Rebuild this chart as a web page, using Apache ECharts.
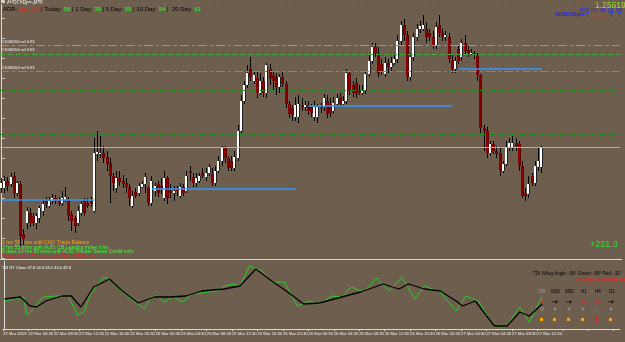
<!DOCTYPE html>
<html><head><meta charset="utf-8">
<script src="https://cdn.jsdelivr.net/npm/echarts@6/dist/echarts.min.js"></script>
<style>html,body{margin:0;padding:0;background:#6e5e4e;}#c{width:625px;height:342px;}</style>
</head><body><div id="c"></div>
<script>
// ---- DATA ----
const OPEN = [0.9512,0.9512,0.9520,0.9517,0.9525,0.9508,0.9517,0.9467,0.9478,0.9488,
0.9485,0.9478,0.9483,0.9490,0.9500,0.9495,0.9500,0.9503,0.9500,0.9498,
0.9501,0.9501,0.9487,0.9482,0.9478,0.9488,0.9500,0.9498,0.9500,0.9490,
0.9547,0.9547,0.9548,0.9543,0.9538,0.9525,0.9512,0.9522,0.9520,0.9518,
0.9514,0.9495,0.9509,0.9508,0.9514,0.9517,0.9512,0.9498,0.9510,0.9517,
0.9515,0.9503,0.9522,0.9510,0.9508,0.9512,0.9505,0.9513,0.9510,0.9530,
0.9524,0.9518,0.9520,0.9528,0.9523,0.9528,0.9527,0.9518,0.9530,0.9540,
0.9552,0.9542,0.9540,0.9532,0.9542,0.9570,0.9600,0.9615,0.9632,0.9620,
0.9622,0.9608,0.9620,0.9608,0.9632,0.9625,0.9623,0.9613,0.9623,0.9617,
0.9597,0.9592,0.9583,0.9583,0.9595,0.9593,0.9595,0.9593,0.9583,0.9583,
0.9595,0.9593,0.9600,0.9597,0.9590,0.9597,0.9603,0.9597,0.9600,0.9628,
0.9615,0.9618,0.9610,0.9608,0.9610,0.9627,0.9640,0.9653,0.9647,0.9637,
0.9627,0.9638,0.9633,0.9638,0.9642,0.9660,0.9675,0.9665,0.9623,0.9643,
0.9663,0.9672,0.9672,0.9672,0.9668,0.9663,0.9655,0.9675,0.9668,0.9663,
0.9663,0.9641,0.9632,0.9652,0.9643,0.9658,0.9651,0.9647,0.9648,0.9644,
0.9625,0.9572,0.9570,0.9548,0.9557,0.9550,0.9548,0.9530,0.9537,0.9553,
0.9552,0.9558,0.9557,0.9535,0.9508,0.9507,0.9525,0.9518,0.9533,0.9533];
const CLOSE = [0.9518,0.9520,0.9515,0.9523,0.9508,0.9518,0.9465,0.9462,0.9490,0.9478,
0.9478,0.9485,0.9492,0.9497,0.9497,0.9500,0.9503,0.9500,0.9497,0.9503,
0.9504,0.9485,0.9480,0.9475,0.9490,0.9497,0.9488,0.9495,0.9497,0.9548,
0.9549,0.9548,0.9542,0.9537,0.9525,0.9518,0.9522,0.9519,0.9517,0.9513,
0.9503,0.9505,0.9505,0.9515,0.9517,0.9523,0.9498,0.9520,0.9515,0.9508,
0.9512,0.9522,0.9503,0.9508,0.9510,0.9510,0.9513,0.9508,0.9525,0.9528,
0.9518,0.9522,0.9525,0.9525,0.9528,0.9533,0.9518,0.9530,0.9540,0.9552,
0.9542,0.9532,0.9532,0.9543,0.9570,0.9600,0.9615,0.9628,0.9623,0.9625,
0.9608,0.9620,0.9608,0.9635,0.9622,0.9620,0.9613,0.9623,0.9617,0.9597,
0.9587,0.9585,0.9595,0.9597,0.9593,0.9595,0.9590,0.9588,0.9593,0.9593,
0.9592,0.9602,0.9587,0.9588,0.9598,0.9602,0.9597,0.9600,0.9628,0.9610,
0.9608,0.9607,0.9608,0.9610,0.9627,0.9640,0.9653,0.9647,0.9627,0.9630,
0.9638,0.9633,0.9638,0.9642,0.9660,0.9675,0.9665,0.9623,0.9643,0.9663,
0.9672,0.9674,0.9675,0.9663,0.9663,0.9655,0.9673,0.9667,0.9663,0.9665,
0.9642,0.9632,0.9640,0.9640,0.9658,0.9650,0.9647,0.9648,0.9645,0.9625,
0.9572,0.9570,0.9548,0.9557,0.9550,0.9547,0.9530,0.9537,0.9553,0.9558,
0.9558,0.9555,0.9535,0.9505,0.9505,0.9517,0.9518,0.9535,0.9540,0.9552];
const LOW = [0.9508,0.9508,0.9510,0.9513,0.9503,0.9505,0.9455,0.9456,0.9472,0.9474,
0.9475,0.9472,0.9478,0.9485,0.9493,0.9492,0.9497,0.9497,0.9495,0.9495,
0.9499,0.9480,0.9470,0.9468,0.9475,0.9485,0.9485,0.9492,0.9494,0.9488,
0.9540,0.9542,0.9538,0.9530,0.9498,0.9510,0.9508,0.9515,0.9512,0.9508,
0.9495,0.9492,0.9502,0.9505,0.9512,0.9508,0.9495,0.9495,0.9505,0.9504,
0.9507,0.9500,0.9497,0.9503,0.9500,0.9505,0.9502,0.9505,0.9508,0.9520,
0.9514,0.9514,0.9518,0.9522,0.9520,0.9525,0.9515,0.9515,0.9528,0.9535,
0.9538,0.9530,0.9530,0.9530,0.9540,0.9568,0.9597,0.9612,0.9620,0.9617,
0.9602,0.9605,0.9603,0.9602,0.9615,0.9610,0.9605,0.9608,0.9613,0.9592,
0.9582,0.9580,0.9580,0.9578,0.9590,0.9590,0.9585,0.9583,0.9580,0.9578,
0.9588,0.9590,0.9582,0.9583,0.9587,0.9593,0.9593,0.9595,0.9597,0.9605,
0.9603,0.9602,0.9605,0.9605,0.9607,0.9623,0.9637,0.9643,0.9623,0.9625,
0.9623,0.9628,0.9630,0.9635,0.9638,0.9655,0.9660,0.9620,0.9620,0.9640,
0.9660,0.9668,0.9670,0.9658,0.9660,0.9652,0.9652,0.9663,0.9660,0.9660,
0.9638,0.9628,0.9628,0.9637,0.9640,0.9645,0.9643,0.9645,0.9642,0.9620,
0.9568,0.9550,0.9542,0.9545,0.9547,0.9542,0.9525,0.9528,0.9535,0.9550,
0.9550,0.9550,0.9530,0.9502,0.9500,0.9502,0.9515,0.9515,0.9530,0.9528];
const HIGH = [0.9522,0.9525,0.9524,0.9528,0.9529,0.9520,0.9520,0.9472,0.9494,0.9492,
0.9488,0.9488,0.9495,0.9501,0.9504,0.9504,0.9507,0.9506,0.9504,0.9510,
0.9513,0.9504,0.9490,0.9485,0.9495,0.9500,0.9502,0.9502,0.9504,0.9562,
0.9570,0.9565,0.9555,0.9550,0.9542,0.9528,0.9530,0.9530,0.9526,0.9522,
0.9517,0.9510,0.9512,0.9518,0.9520,0.9528,0.9515,0.9525,0.9518,0.9520,
0.9522,0.9530,0.9525,0.9517,0.9515,0.9515,0.9518,0.9517,0.9530,0.9535,
0.9528,0.9528,0.9528,0.9532,0.9532,0.9537,0.9532,0.9535,0.9545,0.9555,
0.9555,0.9545,0.9545,0.9550,0.9575,0.9605,0.9620,0.9635,0.9643,0.9630,
0.9630,0.9628,0.9623,0.9638,0.9637,0.9630,0.9628,0.9627,0.9630,0.9620,
0.9600,0.9596,0.9603,0.9605,0.9602,0.9600,0.9600,0.9597,0.9600,0.9597,
0.9598,0.9607,0.9605,0.9602,0.9603,0.9607,0.9608,0.9604,0.9632,0.9630,
0.9620,0.9622,0.9615,0.9615,0.9630,0.9645,0.9658,0.9657,0.9653,0.9642,
0.9643,0.9642,0.9643,0.9648,0.9665,0.9680,0.9682,0.9670,0.9648,0.9667,
0.9676,0.9680,0.9685,0.9678,0.9672,0.9670,0.9678,0.9685,0.9672,0.9670,
0.9667,0.9645,0.9643,0.9655,0.9662,0.9665,0.9655,0.9652,0.9650,0.9647,
0.9627,0.9575,0.9573,0.9560,0.9560,0.9555,0.9552,0.9540,0.9560,0.9562,
0.9565,0.9562,0.9560,0.9540,0.9512,0.9525,0.9528,0.9540,0.9552,0.9555];

const TIME_LABELS = ["22 Mar 2019","22 Mar 04:30","22 Mar 08:30","22 Mar 12:30","22 Mar 16:30","22 Mar 20:30",
"25 Mar 00:30","25 Mar 04:30","25 Mar 08:30","25 Mar 12:30","25 Mar 16:30","25 Mar 20:30",
"26 Mar 00:30","26 Mar 04:30","26 Mar 08:30","26 Mar 12:30","26 Mar 16:30","26 Mar 20:30",
"27 Mar 00:30","27 Mar 04:30","27 Mar 08:30","27 Mar 12:30"];

// horizontal levels (full width)
const LEVEL_PRICES = [0.9697, 0.9655, 0.9646, 0.9629, 0.9610, 0.9566];
const BID_PRICE = 0.9553;
// segment lines
const SEG_PRICE = [0.9501, 0.9512, 0.9595, 0.9632];
const SEG_START = [0, 47, 96, 143];
const SEG_END = [29, 92, 141, 169];

// TDI indicator (candle index, value)
const TDI_GREEN_IDX = [0,6,7,9,12,16,20,23,25,27,31,33,37,41,44,46,48,50,53,56,59,67,69,72,74,77,81,84,88,92,96,99,103,106,109,113,117,121,125,129,132,137,142,145,149,154,158,162,165,169];
const TDI_GREEN_VAL = [38,42,24,30,42,43,43,24,27,45,62,60,47,37,30,42,43,37,42,37,45,48,53,55,53,73,68,57,57,33,38,35,43,42,52,47,61,48,62,40,53,47,28,43,38,12,13,32,17,42];
const TDI_BLACK_IDX = [0,5,8,10,13,18,21,24,28,33,37,42,47,52,57,62,69,74,79,84,89,94,99,106,112,119,124,127,132,137,142,144,148,154,158,162,165,169];
const TDI_BLACK_VAL = [40,42,33,32,38,43,43,32,52,60,48,36,42,42,43,48,50,53,70,58,47,35,36,42,47,55,50,55,50,48,38,33,38,13,13,27,23,35];

const NX = 194; // visible bar slots
// ---- CHART ----
const chart = echarts.init(document.getElementById('c'));
const candles = OPEN.map((o, i) => [i, o, CLOSE[i], LOW[i], HIGH[i]]);
const F = 'Liberation Sans, Arial, sans-serif';
const XMIN = -0.5, XMAX = NX - 0.5;

const levelStyles = [
  {color:'#1f9a1f', type:[5,4], width:1},
  {color:'#00ff00', type:[9,3,3,3], width:1},
  {color:'#3fb03f', type:[5,3], width:1},
  {color:'#22cc22', type:[9,3,3,3], width:1},
  {color:'#1d8a1d', type:[6,4], width:1},
  {color:'#1d8a1d', type:[6,4], width:1}
];
const segColor = '#3399ff';

const markData = [];
LEVEL_PRICES.forEach((p, k) => {
  markData.push([{coord:[XMIN, p], lineStyle: levelStyles[k]}, {coord:[XMAX, p]}]);
});
markData.push([{coord:[XMIN, BID_PRICE], lineStyle:{color:'#b8b0a8', type:'solid', width:1}}, {coord:[XMAX, BID_PRICE]}]);
SEG_PRICE.forEach((p, k) => {
  markData.push([{coord:[SEG_START[k], p], lineStyle:{color:segColor, type:'solid', width:1.5}}, {coord:[SEG_END[k], p]}]);
});

const option = {
  backgroundColor: '#6e5e4e',
  animation: false,
  grid: [
    {left:0, top:0, width:620, height:258},
    {left:0, top:261, width:620, height:68}
  ],
  xAxis: [
    {type:'value', gridIndex:0, min:XMIN, max:XMAX, show:false},
    {type:'value', gridIndex:1, min:XMIN, max:XMAX, interval:8,
     axisLine:{show:true, onZero:false, lineStyle:{color:'#d8d8d8', width:1}},
     axisTick:{show:true, length:2, lineStyle:{color:'#d8d8d8'}},
     splitLine:{show:false},
     axisLabel:{show:true, hideOverlap:false, showMaxLabel:false, showMinLabel:true, color:'#f0f0f0', fontSize:4.2, fontFamily:F, align:'left', margin:3,
       formatter: v => { const k = Math.round((v - XMIN) / 8); return TIME_LABELS[k] || ''; }}}
  ],
  yAxis: [
    {type:'value', gridIndex:0, min:0.94425, max:0.97005, position:'right', offset:1,
     axisLine:{show:true, lineStyle:{color:'#d8d8d8'}}, axisTick:{show:true, length:3, lineStyle:{color:'#d8d8d8'}},
     axisLabel:{show:false}, splitLine:{show:false}, interval:0.002},
    {type:'value', gridIndex:1, min:10, max:78, position:'right', offset:1,
     axisLine:{show:true, lineStyle:{color:'#d8d8d8'}}, axisTick:{show:false},
     axisLabel:{show:false}, splitLine:{show:false}}
  ],
  series: [
    {type:'line', xAxisIndex:0, yAxisIndex:0, data:[[XMIN, null]], silent:true, symbol:'none',
     markLine:{symbol:'none', silent:true, label:{show:false}, animation:false, emphasis:{disabled:true}, data: markData}},
    {type:'custom', xAxisIndex:0, yAxisIndex:0, data:candles, silent:true,
     renderItem: (params, api) => {
       const i = api.value(0), o = api.value(1), c = api.value(2), l = api.value(3), h = api.value(4);
       const pO = api.coord([i, o]), pC = api.coord([i, c]), pL = api.coord([i, l]), pH = api.coord([i, h]);
       const xc = Math.floor(pO[0]);
       const up = c >= o;
       const top = Math.round(Math.min(pO[1], pC[1]));
       const bot = Math.round(Math.max(pO[1], pC[1]));
       const yh = Math.round(pH[1]), yl = Math.round(pL[1]);
       return {type:'group', children:[
         {type:'rect', shape:{x:xc, y:yh, width:1, height:Math.max(1, yl - yh)}, style:{fill:'#000000'}},
         {type:'rect', shape:{x:xc-1, y:top, width:3, height:Math.max(1, bot - top)}, style:{fill: up ? '#ffffff' : '#8b0000'}},
         {type:'rect', shape:{x:xc+1, y:top, width:1, height:Math.max(1, bot - top)}, style:{fill: up ? '#202020' : '#5a0000'}}
       ]};
     }},
    {type:'line', xAxisIndex:1, yAxisIndex:1, symbol:'none', silent:true,
     data: TDI_GREEN_IDX.map((x, k) => [x, TDI_GREEN_VAL[k]]), lineStyle:{color:'#22d022', width:1}},
    {type:'line', xAxisIndex:1, yAxisIndex:1, symbol:'none', silent:true,
     data: TDI_BLACK_IDX.map((x, k) => [x, TDI_BLACK_VAL[k]]), lineStyle:{color:'#000000', width:1.3}}
  ],
  graphic: [
    {type:'rect', shape:{x:0, y:259, width:622, height:1}, style:{fill:'#d8d8d8'}, silent:true},
    {type:'rect', shape:{x:2, y:1, width:3, height:3}, style:{fill:'#cccccc'}},
    {type:'text', style:{x:7, y:2.5, text:'AUDCADpro,M30', fill:'#ffffff', font:'4.5px '+F, verticalAlign:'middle'}},
    {type:'text', style:{x:3, y:9, verticalAlign:'middle', font:'6px '+F, fill:'#000000',
      text:'{k|ADR: }{r|101.0%}{k| | Today: }{g|58}{k| | 1 Day: }{g|39}{k| | 5 Day: }{g|55}{k| | 10 Day: }{g|54}{k| |  20 Day: }{g|61}',
      rich:{k:{fill:'#000000', font:'6px '+F}, r:{fill:'#ff2020', font:'6px '+F}, g:{fill:'#30ff30', font:'6px '+F}}}},
    {type:'text', style:{x:2, y:41.5, text:'#1030150 ref 0.93', fill:'#ffffff', font:'4px '+F, verticalAlign:'middle'}},
    {type:'text', style:{x:2, y:50, text:'#1030154 ref 0.93', fill:'#ffffff', font:'4px '+F, verticalAlign:'middle'}},
    {type:'text', style:{x:2, y:68, text:'#1030153 ref 0.93', fill:'#ffffff', font:'4px '+F, verticalAlign:'middle'}},
    {type:'text', style:{x:595, y:6, text:'1.25819', fill:'#9ee23a', font:'8.5px '+F, verticalAlign:'middle'}},
    {type:'text', style:{x:580, y:10.5, text:'M15  H1  H4  D1  W1', fill:'#2020ff', font:'4.5px '+F, verticalAlign:'middle'}},
    {type:'text', style:{x:555, y:15, text:'AUDCADpro', fill:'#2020ff', font:'bold 5px '+F, verticalAlign:'middle'}},
    {type:'text', style:{x:584, y:15, text:'↑', fill:'#2040ff', font:'bold 8px DejaVu Sans', verticalAlign:'middle'}},
    {type:'text', style:{x:592, y:15, text:'↓', fill:'#ff2020', font:'bold 8px DejaVu Sans', verticalAlign:'middle'}},
    {type:'text', style:{x:600, y:15, text:'↓', fill:'#ff2020', font:'bold 8px DejaVu Sans', verticalAlign:'middle'}},
    {type:'text', style:{x:608, y:15, text:'↑', fill:'#2040ff', font:'bold 8px DejaVu Sans', verticalAlign:'middle'}},
    {type:'text', style:{x:616, y:15, text:'↑', fill:'#2040ff', font:'bold 8px DejaVu Sans', verticalAlign:'middle'}},
    {type:'text', style:{x:2, y:242.7, text:'1 hrs 55 mins until CAD: Trade Balance', fill:'#ffa500', font:'5px '+F, verticalAlign:'middle'}},
    {type:'text', style:{x:2, y:247.3, text:'3 hrs 55 mins until AUD: CB Leading Index m/m', fill:'#40ff40', font:'5px '+F, verticalAlign:'middle'}},
    {type:'text', style:{x:2, y:252, text:'6 days 10 hrs 55 mins until AUD: Private Sector Credit m/m', fill:'#40ff40', font:'5px '+F, verticalAlign:'middle'}},
    {type:'text', style:{x:2, y:256.7, text:'2 days 1 hrs 55 mins until CAD: GDP m/m', fill:'#ff2020', font:'5px '+F, verticalAlign:'middle'}},
    {type:'text', style:{x:590, y:245, text:'+221.3', fill:'#30e030', font:'9px '+F, verticalAlign:'middle'}},
    {type:'text', style:{x:2, y:267.5, text:'TDI RT Clone 47.8 54.0 58.2 43.0 49.8', fill:'#ffffff', font:'4px '+F, verticalAlign:'middle'}},
    {type:'text', style:{x:533, y:274, text:'TDI IVAvg Angle: -36° Green: -58° Red: -31°', fill:'#000000', font:'4.5px '+F, verticalAlign:'middle'}},
    {type:'text', style:{x:572, y:280, text:'TDI Crossed DOWN [83]', fill:'#ff2020', font:'5px '+F, verticalAlign:'middle'}},
    {type:'text', style:{x:539, y:292, text:'M5', fill:'#9a9a9a', font:'4.5px '+F, verticalAlign:'middle'}},
    {type:'text', style:{x:551, y:292, text:'M15', fill:'#000000', font:'4.5px '+F, verticalAlign:'middle'}},
    {type:'text', style:{x:565, y:292, text:'M30', fill:'#000000', font:'4.5px '+F, verticalAlign:'middle'}},
    {type:'text', style:{x:581, y:292, text:'H1', fill:'#000000', font:'4.5px '+F, verticalAlign:'middle'}},
    {type:'text', style:{x:595, y:292, text:'H4', fill:'#000000', font:'4.5px '+F, verticalAlign:'middle'}},
    {type:'text', style:{x:609, y:292, text:'D1', fill:'#000000', font:'4.5px '+F, verticalAlign:'middle'}},
    {type:'text', style:{x:539, y:302, text:'↘', fill:'#ff2020', font:'bold 7px DejaVu Sans', verticalAlign:'middle'}},
    {type:'text', style:{x:552, y:302, text:'→', fill:'#000000', font:'bold 7px DejaVu Sans', verticalAlign:'middle'}},
    {type:'text', style:{x:566, y:302, text:'→', fill:'#000000', font:'bold 7px DejaVu Sans', verticalAlign:'middle'}},
    {type:'text', style:{x:580, y:302, text:'↘', fill:'#ff2020', font:'bold 7px DejaVu Sans', verticalAlign:'middle'}},
    {type:'text', style:{x:595, y:302, text:'↓', fill:'#ff2020', font:'bold 7px DejaVu Sans', verticalAlign:'middle'}},
    {type:'text', style:{x:608, y:302, text:'→', fill:'#000000', font:'bold 7px DejaVu Sans', verticalAlign:'middle'}},
    {type:'circle', shape:{cx:542, cy:309, r:1.6}, style:{fill:'none', stroke:'#8a8a8a', lineWidth:1}},
    {type:'circle', shape:{cx:555, cy:309, r:1.4}, style:{fill:'#8a8a8a'}},
    {type:'circle', shape:{cx:569, cy:309, r:1.4}, style:{fill:'#8a8a8a'}},
    {type:'circle', shape:{cx:583, cy:309, r:1.4}, style:{fill:'#8a8a8a'}},
    {type:'circle', shape:{cx:597, cy:309, r:1.4}, style:{fill:'#707070'}},
    {type:'circle', shape:{cx:611, cy:309, r:1.4}, style:{fill:'#8a8a8a'}},
    {type:'rect', shape:{x:540, y:318, width:3, height:3}, style:{fill:'#ffa500'}},
    {type:'rect', shape:{x:553, y:318, width:3, height:3}, style:{fill:'#ffa500'}},
    {type:'rect', shape:{x:567, y:318, width:3, height:3}, style:{fill:'#ffa500'}},
    {type:'rect', shape:{x:581, y:318, width:3, height:3}, style:{fill:'#ffa500'}},
    {type:'rect', shape:{x:595, y:318, width:3, height:3}, style:{fill:'#ff1010'}},
    {type:'rect', shape:{x:609, y:318, width:3, height:3}, style:{fill:'#ffa500'}}
  ]
};
chart.setOption(option);
</script></body></html>
